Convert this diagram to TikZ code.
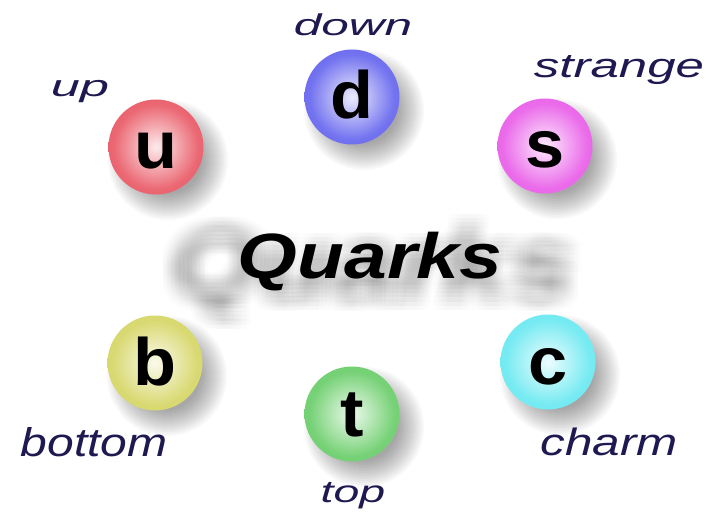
\documentclass[tikz,border=0pt]{standalone}
\usepackage{fontspec}
\setmainfont{Liberation Sans}
\definecolor{qred}{RGB}{228,55,70}
\definecolor{qblue}{RGB}{70,70,235}
\definecolor{qmag}{RGB}{228,60,228}
\definecolor{qyel}{RGB}{205,205,70}
\definecolor{qgreen}{RGB}{75,195,75}
\definecolor{qcyan}{RGB}{75,228,238}
\definecolor{navy}{RGB}{30,25,80}
\colorlet{sphout}{qred}\colorlet{sphA}{white}\colorlet{sphB}{qred}
\pgfdeclareradialshading[sphA,sphB,sphout]{sph}{\pgfpoint{0bp}{0bp}}{color(0bp)=(sphA); color(22bp)=(sphB); color(50bp)=(sphout)}
\tikzset{
  sphere/.style={circle, minimum size=95pt, inner sep=0pt,
    /utils/exec={\colorlet{sphout}{#1}\colorlet{sphA}{#1!10!white}\colorlet{sphB}{#1!75!white}},
    shading=sph},
  letter/.style={anchor=base, inner sep=0pt, font=\bfseries\fontsize{67}{67}\selectfont, xscale=1.05},
  qlabel/.style={anchor=base, inner sep=0pt, text=navy},
}
\begin{document}
\begin{tikzpicture}[x=1pt,y=-1pt]
\useasboundingbox[fill=white] (0,0) rectangle (705,516);
% blurred background title
\foreach \dx in {-12,-8,...,12} \foreach \dy in {-12,-8,...,12} {
  \node[anchor=base, inner sep=0pt, opacity=0.008, font=\bfseries\itshape\fontsize{98}{98}\selectfont, xscale=1.2] at (372+\dx,298+\dy) {Quarks};
}
% spheres
\foreach \n/\x/\y/\c/\l in {u/156/147/qred/u, d/352/97/qblue/d, s/545/146/qmag/s, b/155/363/qyel/b, t/352/414/qgreen/t, c/548/362/qcyan/c} {
  \coordinate (\n-sh) at (\x+12,\y+13);
  \foreach \r in {34,36,...,60} { \fill[black, opacity=0.028] (\n-sh) circle (\r pt); }
  \node[sphere=\c] (\n) at (\x,\y) {};
  \node[letter] (\n-l) at ([yshift=-22pt]\n.center) {\l};
}
% title
\node[anchor=base, inner sep=0pt, font=\bfseries\itshape\fontsize{64}{64}\selectfont, xscale=1.2] (title) at (370,279) {Quarks};
% labels
\node[qlabel, font=\itshape\fontsize{30}{30}\selectfont, xscale=1.75] (lup) at (80,97) {up};
\node[qlabel, font=\itshape\fontsize{30}{30}\selectfont, xscale=1.65] (ldown) at (353,36) {down};
\node[qlabel, font=\itshape\fontsize{34}{34}\selectfont, xscale=1.5] (lstrange) at (619,78) {strange};
\node[qlabel, font=\itshape\fontsize{40}{40}\selectfont, xscale=1.2] (lbottom) at (94,456) {bottom};
\node[qlabel, font=\itshape\fontsize{31}{31}\selectfont, xscale=1.5] (ltop) at (353,502) {top};
\node[qlabel, font=\itshape\fontsize{38}{38}\selectfont, xscale=1.3] (lcharm) at (609,455) {charm};
\end{tikzpicture}
\end{document}
